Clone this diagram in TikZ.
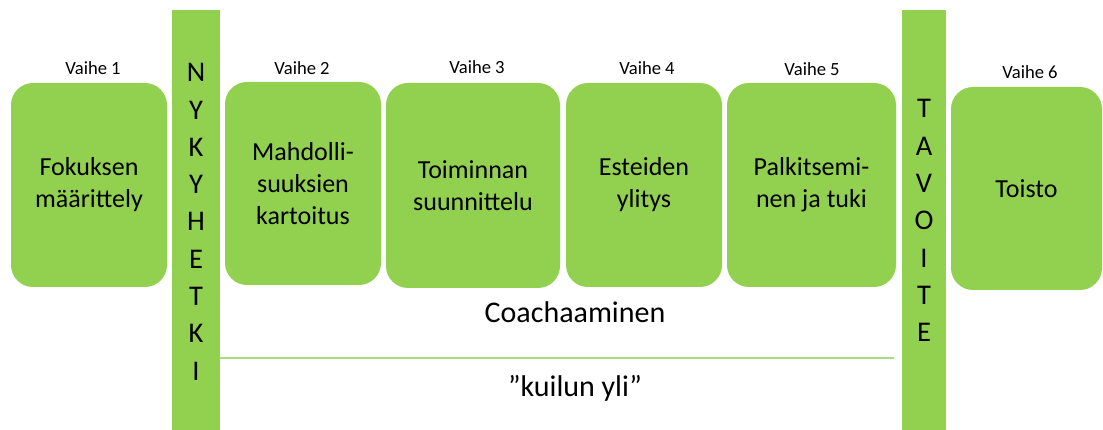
\documentclass[tikz,border=0pt]{standalone}
\usepackage{fontspec}
\setmainfont{Carlito}
\definecolor{nygreen}{HTML}{92D050}
\definecolor{linegreen}{HTML}{A9DC7A}

\tikzset{
    phase/.style={fill=nygreen, rounded corners=22pt, align=center, inner sep=0pt,
        font=\fontsize{26}{32}\selectfont},
    vaihe/.style={anchor=base, font=\fontsize{18.6}{22}\selectfont},
    bar/.style={fill=nygreen, inner sep=0pt, minimum height=420pt},
    barletter/.style={anchor=base, font=\fontsize{28.5}{34}\selectfont},
    bigtext/.style={anchor=base, font=\fontsize{30}{36}\selectfont},
}

\begin{document}
\begin{tikzpicture}[x=1pt,y=-1pt]
        \useasboundingbox (0,0) rectangle (1103,430);
        % The two vertical bars: now and goal.
        \node[bar, minimum width=48pt] (now) at (196,220) {};
        \node[bar, minimum width=44pt] (goal) at (924,220) {};
        \foreach \l [count=\i] in {N,Y,K,Y,H,E,T,K,I}
            \node[barletter] (n\i) at (196,{82+37.25*(\i-1)}) {\l};
        \foreach \l [count=\i] in {T,A,V,O,I,T,E}
            \node[barletter] (t\i) at (924,{118+37.3*(\i-1)}) {\l};

        % Phases
        \node[phase, minimum width=156pt, minimum height=204pt] (p1) at (89,185) {Fokuksen\\määrittely};
        \node[phase, minimum width=156pt, minimum height=203pt] (p2) at (303,183.5) {Mahdolli-\\suuksien\\kartoitus};
        \node[phase, minimum width=174pt, minimum height=205pt] (p3) at (473,185.5) {Toiminnan\\suunnittelu};
        \node[phase, minimum width=156pt, minimum height=204pt] (p4) at (644,185) {Esteiden\\ylitys};
        \node[phase, minimum width=169pt, minimum height=204pt] (p5) at (811.5,185) {Palkitsemi-\\nen ja tuki};
        \node[phase, minimum width=151pt, minimum height=203pt] (p6) at (1026.5,188.5) {Toisto};

        \node[vaihe] (v1) at (93,75) {Vaihe 1};
        \node[vaihe] (v2) at (302,75) {Vaihe 2};
        \node[vaihe] (v3) at (477,74) {Vaihe 3};
        \node[vaihe] (v4) at (647,75) {Vaihe 4};
        \node[vaihe] (v5) at (812,76) {Vaihe 5};
        \node[vaihe] (v6) at (1030,79) {Vaihe 6};

        % Coaching across the gap
        \node[bigtext] (coach) at (575,323) {Coachaaminen};
        \coordinate (gapL) at (220,358);
        \coordinate (gapR) at (894,358);
        \draw[linegreen, line width=1.4pt] (gapL) -- (gapR);
        \node[bigtext] (gap) at (575,396) {”kuilun yli”};
    \end{tikzpicture}
\end{document}
